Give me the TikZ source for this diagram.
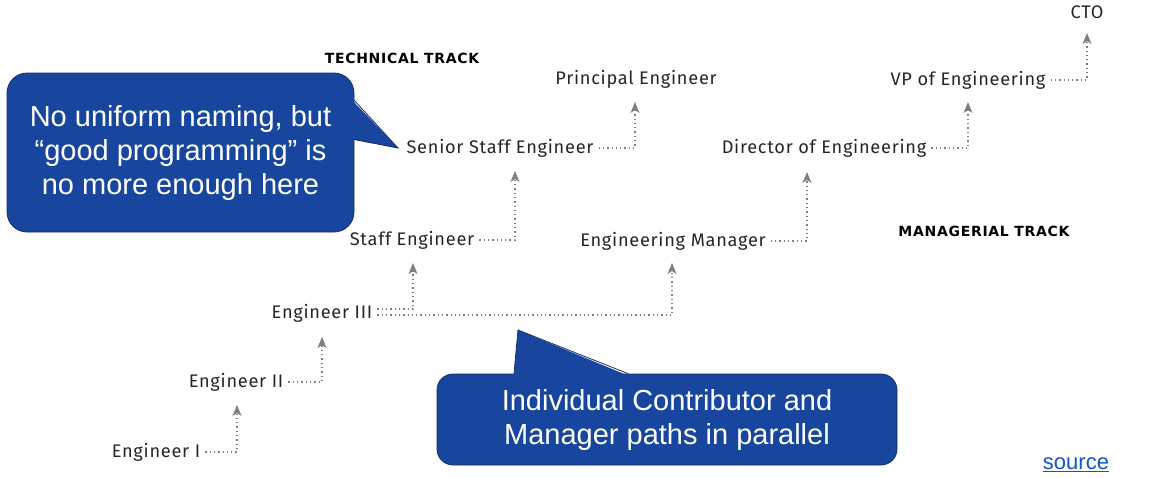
\documentclass[tikz,border=0pt]{standalone}
\usepackage{fontspec}
\setmainfont{Liberation Sans}
\newfontfamily\rolefont[LetterSpace=4]{Fira Sans}
\newfontfamily\trackfont[LetterSpace=5]{DejaVu Sans}
\usetikzlibrary{arrows.meta}

\definecolor{bubbleblue}{RGB}{24,70,158}
\definecolor{bubbleedge}{RGB}{22,44,98}
\definecolor{linkblue}{RGB}{17,85,204}

\tikzset{
    role/.style={font=\rolefont\fontsize{18.2}{21}\selectfont, text=black!85, inner sep=5pt},
    track/.style={font=\trackfont\bfseries\fontsize{14}{17}\selectfont, text=black},
    ladder/.style={gray, line width=1.3pt, dash pattern=on 1.3pt off 3pt,
        -{Stealth[length=11pt, width=9pt, inset=3pt]}},
    bubble/.style={fill=bubbleblue, draw=bubbleedge, line width=0.8pt, rounded corners=20pt,
        inner sep=0pt, text=white, align=center, font=\fontsize{29}{34}\selectfont},
}

\begin{document}
\begin{tikzpicture}[x=1pt, y=-1pt]
    \useasboundingbox (0,0) rectangle (1154,477);

    % 1. Track titles
    \node[track] (techtrack) at (402,58) {TECHNICAL TRACK};
    \node[track] (mgrtrack) at (984,231) {MANAGERIAL TRACK};

    % 2. Roles
    \node[role] (e1) at (156,452) {Engineer I};
    \node[role] (e2) at (236,382) {Engineer II};
    \node[role] (e3) at (322,313) {Engineer III};
    \node[role] (st) at (412,240) {Staff Engineer};
    \node[role] (sst) at (500,148) {Senior Staff Engineer};
    \node[role] (pe) at (636,79) {Principal Engineer};
    \node[role] (em) at (673,241) {Engineering Manager};
    \node[role] (dir) at (824,148) {Director of Engineering};
    \node[role] (vp) at (968,80) {VP of Engineering};
    \node[role] (cto) at (1087,12) {CTO};

    % 3. Where the arrows end
    \coordinate (e2in) at (237,405);
    \coordinate (e3in) at (322,337);
    \coordinate (stin) at (413,263);
    \coordinate (sstin) at (515,171);
    \coordinate (pein) at (635,102);
    \coordinate (emin) at (672,263);
    \coordinate (dirin) at (807,172);
    \coordinate (vpin) at (968,102);
    \coordinate (ctoin) at (1087,33);

    % 4. Promotions
    \draw[ladder] (e1.east) -| (e2in);
    \draw[ladder] (e2.east) -| (e3in);
    \draw[ladder] ([yshift=4pt]e3.east) -| (stin);
    \draw[ladder] ([yshift=-2pt]e3.east) -| (emin);
    \draw[ladder] (st.east) -| (sstin);
    \draw[ladder] (sst.east) -| (pein);
    \draw[ladder] (em.east) -| (dirin);
    \draw[ladder] (dir.east) -| (vpin);
    \draw[ladder] (vp.east) -| (ctoin);

    % 5. Callouts
    \node[bubble, minimum width=347pt, minimum height=159pt] (note1) at (180.5,152.5)
        {No uniform naming, but\\``good programming'' is\\no more enough here};
    \coordinate (tip1) at (398,148);
    \fill[bubbleblue] ([xshift=-2pt, yshift=52pt]note1.east) -- (tip1)
        -- ([xshift=-2pt, yshift=13pt]note1.east) -- cycle;
    \draw[bubbleedge, line width=0.8pt] ([yshift=52pt]note1.east) -- (tip1)
        -- ([yshift=13pt]note1.east);

    \node[bubble, rounded corners=16pt, minimum width=460pt, minimum height=91pt] (note2) at (667,419.5)
        {Individual Contributor and\\Manager paths in parallel};
    \coordinate (tip2) at (518,330);
    \fill[bubbleblue] ([xshift=-153pt, yshift=-2pt]note2.north) -- (tip2)
        -- ([xshift=-39pt, yshift=-2pt]note2.north) -- cycle;
    \draw[bubbleedge, line width=0.8pt] ([xshift=-153pt]note2.north) -- (tip2)
        -- ([xshift=-39pt]note2.north);

    % 6. Link
    \node[font=\fontsize{22}{26}\selectfont, text=linkblue, inner sep=0pt] (src) at (1076,465) {\underline{source}};
\end{tikzpicture}
\end{document}
